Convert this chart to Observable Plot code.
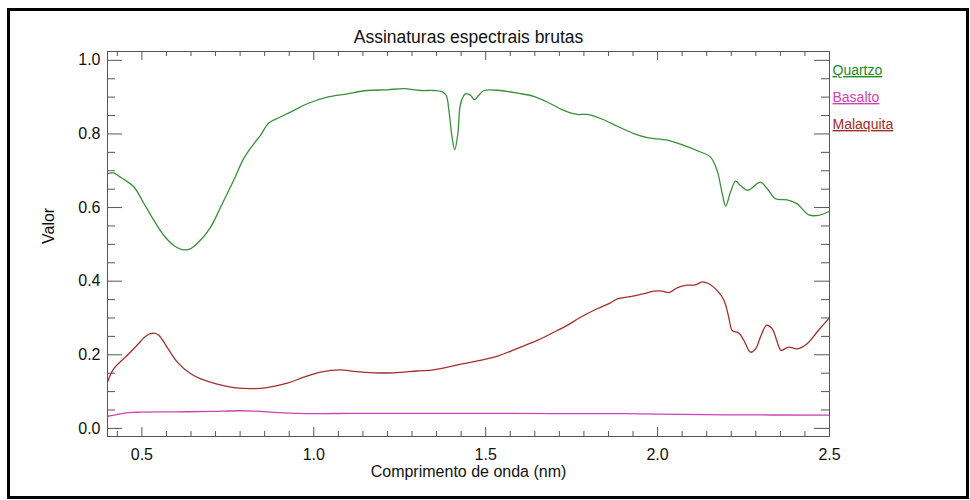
<!DOCTYPE html>
<html>
<head>
<meta charset="utf-8">
<script src="https://cdn.jsdelivr.net/npm/d3@7"></script>
<script src="https://cdn.jsdelivr.net/npm/@observablehq/plot@0.6"></script>
<style>
  html, body { margin: 0; padding: 0; background: #fff; }
  #wrap { position: relative; width: 970px; height: 500px; overflow: hidden; }
  #border { position: absolute; left: 7px; top: 8px; right: 1px; bottom: 1px;
            border: 3px solid #000; pointer-events: none; box-sizing: border-box; }
</style>
</head>
<body>
<div id="wrap"><div id="border"></div></div>
<script>
// ---- Data ----
const chartTitle = "Assinaturas espectrais brutas";
const xLabel = "Comprimento de onda (nm)";
const yLabel = "Valor";
const seriesNames = ["Quartzo", "Basalto", "Malaquita"];
const seriesColors = ["#3a8f3a", "#cc44b4", "#a3302c"];
const legendColors = ["#1f8a1f", "#cc44b4", "#a52a2a"];

const xTicks = [0.5, 1.0, 1.5, 2.0, 2.5];
const xTickLabels = ["0.5", "1.0", "1.5", "2.0", "2.5"];
const yTicks = [0.0, 0.2, 0.4, 0.6, 0.8, 1.0];
const yTickLabels = ["0.0", "0.2", "0.4", "0.6", "0.8", "1.0"];

const quartzoWl = [0.400,0.418,0.435,0.452,0.477,0.506,0.535,0.564,0.593,0.617,0.641,0.670,0.700,0.729,0.767,0.796,0.826,0.845,0.869,0.903,0.942,0.981,1.039,1.097,1.155,1.214,1.262,1.310,1.349,1.373,1.385,1.393,1.402,1.410,1.419,1.427,1.441,1.456,1.467,1.480,1.495,1.543,1.592,1.640,1.689,1.727,1.766,1.795,1.834,1.883,1.931,1.970,2.028,2.076,2.125,2.154,2.173,2.188,2.198,2.212,2.227,2.241,2.262,2.299,2.319,2.343,2.377,2.406,2.440,2.469,2.500];
const quartzoVal = [0.692,0.694,0.684,0.674,0.656,0.611,0.565,0.524,0.497,0.486,0.488,0.511,0.547,0.601,0.674,0.733,0.774,0.796,0.830,0.846,0.864,0.882,0.900,0.909,0.918,0.920,0.923,0.918,0.918,0.915,0.905,0.864,0.792,0.757,0.801,0.882,0.909,0.905,0.893,0.905,0.918,0.918,0.911,0.902,0.882,0.864,0.853,0.853,0.842,0.821,0.801,0.790,0.783,0.769,0.751,0.737,0.701,0.638,0.604,0.642,0.672,0.660,0.647,0.669,0.651,0.624,0.621,0.610,0.580,0.579,0.590];

const basaltoWl = [0.400,0.420,0.460,0.500,0.600,0.700,0.780,0.830,0.900,1.000,1.100,1.300,1.500,1.700,1.900,2.000,2.200,2.500];
const basaltoVal = [0.033,0.036,0.043,0.044,0.045,0.046,0.048,0.047,0.043,0.040,0.041,0.041,0.041,0.040,0.040,0.039,0.037,0.036];

const malaquitaWl = [0.400,0.418,0.457,0.486,0.515,0.535,0.549,0.573,0.603,0.641,0.670,0.719,0.767,0.816,0.864,0.923,0.971,1.020,1.078,1.116,1.175,1.233,1.301,1.349,1.436,1.533,1.591,1.650,1.708,1.737,1.776,1.824,1.863,1.883,1.921,1.960,1.989,2.013,2.033,2.057,2.086,2.110,2.130,2.149,2.173,2.193,2.207,2.217,2.236,2.251,2.270,2.285,2.299,2.317,2.333,2.348,2.359,2.381,2.406,2.435,2.464,2.500];
const malaquitaVal = [0.126,0.162,0.198,0.226,0.253,0.259,0.253,0.221,0.180,0.149,0.135,0.120,0.111,0.108,0.111,0.123,0.139,0.153,0.159,0.155,0.151,0.151,0.156,0.159,0.176,0.196,0.217,0.239,0.266,0.280,0.302,0.325,0.341,0.352,0.358,0.366,0.373,0.373,0.369,0.382,0.389,0.390,0.398,0.393,0.375,0.348,0.302,0.266,0.259,0.239,0.207,0.216,0.248,0.280,0.271,0.235,0.212,0.221,0.216,0.230,0.262,0.301];

// ---- Build tables ----
const toRows = (wl, val, name) => wl.map((x, i) => ({x, y: val[i], serie: name}));
const series = [
  toRows(quartzoWl, quartzoVal, seriesNames[0]),
  toRows(basaltoWl, basaltoVal, seriesNames[1]),
  toRows(malaquitaWl, malaquitaVal, seriesNames[2])
];

// minor tick grids
const xMinor = d3.range(-1, 29).map(k => 0.5 + k * 0.5 / 7).filter(v => v >= 0.399 && v <= 2.501)
  .filter(v => !xTicks.some(t => Math.abs(t - v) < 1e-6));
const yMinor = d3.range(0, 21).map(k => k * 0.05).filter(v => !yTicks.some(t => Math.abs(t - v) < 1e-6));

const W = 970, H = 500, mL = 107, mR = 141, mT = 51, mB = 64;
const fw = W - mL - mR, fh = H - mT - mB;

const font = "'Liberation Sans', Arial, Helvetica, sans-serif";
const tickColor = "#555";

const yTick = (vals, len, side) => Plot.tickY(vals, {
  y: d => d, stroke: tickColor, strokeWidth: 1,
  insetLeft: side === "right" ? fw - len : 0,
  insetRight: side === "left" ? fw - len : 0
});
const xTick = (vals, len, side) => Plot.tickX(vals, {
  x: d => d, stroke: tickColor, strokeWidth: 1,
  insetTop: side === "bottom" ? fh - len : 0,
  insetBottom: side === "top" ? fh - len : 0
});

const marks = [
  ...series.map((rows, i) => Plot.line(rows, {x: "x", y: "y", stroke: seriesColors[i], strokeWidth: 1.3, curve: "catmull-rom"})),
  // tick marks (inward, on all four sides)
  yTick(yTicks, 15, "left"), yTick(yMinor, 8, "left"),
  yTick(yTicks, 15, "right"), yTick(yMinor, 8, "right"),
  xTick(xTicks, 9, "bottom"), xTick(xMinor, 5, "bottom"),
  xTick(xTicks, 9, "top"), xTick(xMinor, 5, "top"),
  Plot.frame({stroke: tickColor}),
  // tick labels
  Plot.axisY(yTicks, {anchor: "left", tickSize: 0, tickPadding: 7, tickFormat: (d, i) => yTickLabels[i], label: null, fill: "#111"}),
  Plot.axisX(xTicks, {anchor: "bottom", tickSize: 0, tickPadding: 12, tickFormat: (d, i) => xTickLabels[i], label: null, fill: "#111"}),
  // titles
  Plot.text([chartTitle], {frameAnchor: "top", lineAnchor: "middle", dy: -14, fontSize: 17.5, fill: "#111"}),
  Plot.text([xLabel], {frameAnchor: "bottom", lineAnchor: "middle", dy: 35, fontSize: 16, fill: "#111"}),
  Plot.text([yLabel], {frameAnchor: "left", lineAnchor: "middle", dx: -59, rotate: -90, fontSize: 16, fill: "#111"}),
  // legend
  ...seriesNames.map((name, i) => Plot.text([name], {
    frameAnchor: "top-right", lineAnchor: "middle", dx: 3, dy: 19 + 27 * i, textAnchor: "start",
    fontSize: 14, fill: legendColors[i]
  }))
];

const chart = Plot.plot({
  width: W,
  height: H,
  marginLeft: mL,
  marginRight: mR,
  marginTop: mT,
  marginBottom: mB,
  x: {domain: [0.4, 2.5]},
  y: {domain: [-0.022, 1.024]},
  style: {fontFamily: font, fontSize: "16px", background: "transparent", color: "#111"},
  marks
});

// underline legend entries
d3.select(chart).selectAll("text").each(function() {
  if (seriesNames.includes(this.textContent)) this.style.textDecoration = "underline";
});

document.getElementById("wrap").prepend(chart);
</script>
</body>
</html>
